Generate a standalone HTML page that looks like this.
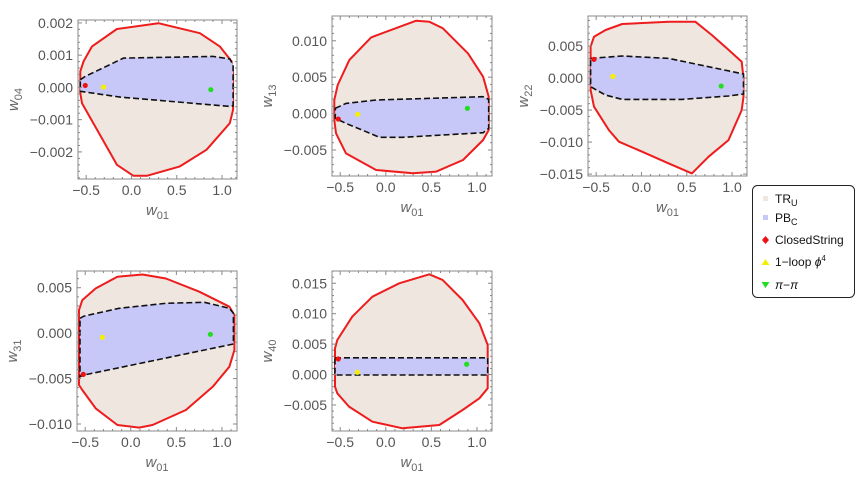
<!DOCTYPE html>
<html><head><meta charset="utf-8"><style>
body{margin:0;background:#fff;width:856px;height:494px;overflow:hidden;font-family:"Liberation Sans",sans-serif}
svg text{font-family:"Liberation Sans",sans-serif}
</style></head><body>
<svg id="chart" width="856" height="494" xmlns="http://www.w3.org/2000/svg"></svg>
<script>
// ---- data ----
const panelNames = ["w04","w13","w22","w31","w40"];
const ySub = ["04","13","22","31","40"];
const xRange = [-0.59, 1.165];
const yRanges = [[-0.00284,0.00209],[-0.00857,0.0134],[-0.0153,0.00969],[-0.01077,0.00684],[-0.00928,0.01702]];
const yMajor = [0.001,0.005,0.005,0.005,0.005];
const xTicks = [-0.5,0,0.5,1.0];
const xTickLabels = ["-0.5","0.0","0.5","1.0"];
const trRegion = [
 [[-0.565,0.0005],[-0.528,0.00081],[-0.436,0.00127],[-0.161,0.00181],[0.297,0.00199],[0.755,0.00168],[0.975,0.00127],[1.104,0.00081],[1.122,0.00044],[1.122,-0.00069],[1.085,-0.00111],[0.829,-0.00193],[0.535,-0.00245],[0.169,-0.00274],[0.022,-0.00274],[-0.161,-0.0024],[-0.546,-0.00049],[-0.565,-0.00018]],
 [[-0.565,0.00186],[-0.528,0.00392],[-0.4,0.00735],[-0.161,0.01046],[0.334,0.01275],[0.48,0.01261],[0.627,0.0117],[0.902,0.00827],[1.067,0.00507],[1.129,0.00232],[1.129,-0.00226],[1.067,-0.00363],[0.847,-0.00637],[0.554,-0.00797],[0.297,-0.0082],[-0.106,-0.00774],[-0.436,-0.00546],[-0.546,-0.00271],[-0.565,-0.00088]],
 [[-0.561,0.0049],[-0.524,0.00646],[-0.396,0.0075],[-0.213,0.00844],[0.301,0.0088],[0.594,0.0088],[0.777,0.00672],[0.942,0.00464],[1.107,0.00255],[1.126,-0.00005],[1.126,-0.00292],[1.107,-0.005],[0.961,-0.00969],[0.741,-0.01229],[0.557,-0.0149],[0.301,-0.01333],[0.007,-0.01151],[-0.249,-0.00995],[-0.359,-0.00813],[-0.524,-0.00448],[-0.561,-0.00188]],
 [[-0.568,0.00254],[-0.532,0.00364],[-0.385,0.00493],[-0.147,0.00621],[0.128,0.00646],[0.385,0.00602],[0.752,0.00456],[1.082,0.00291],[1.137,0.00199],[1.137,-0.00186],[1.082,-0.00369],[0.898,-0.0059],[0.605,-0.00846],[0.238,-0.01011],[0.092,-0.0104],[-0.147,-0.01011],[-0.385,-0.00828],[-0.532,-0.00626],[-0.568,-0.00571]],
 [[-0.557,0.00432],[-0.532,0.00568],[-0.367,0.00952],[-0.147,0.0128],[0.147,0.015],[0.477,0.01648],[0.623,0.01555],[0.843,0.01226],[1.027,0.00842],[1.118,0.00486],[1.118,-0.00226],[1.027,-0.00391],[0.843,-0.00582],[0.587,-0.0083],[0.183,-0.00884],[-0.147,-0.00775],[-0.403,-0.00527],[-0.532,-0.00308],[-0.557,-0.00199]]
];
const pbRegion = [
 [[-0.565,0.00024],[-0.51,0.00034],[-0.088,0.00091],[0.902,0.00096],[1.085,0.00088],[1.122,0.0007],[1.122,-0.00057],[1.085,-0.00059],[-0.125,-0.0003],[-0.565,-0.00012]],
 [[-0.554,0.00072],[-0.436,0.0014],[-0.106,0.00186],[1.067,0.00232],[1.129,0.00195],[1.129,-0.00203],[1.067,-0.00262],[0.187,-0.00326],[-0.07,-0.00326],[-0.216,-0.00249],[-0.436,-0.00135],[-0.554,-0.00065]],
 [[-0.561,0.00307],[-0.213,0.00344],[0.301,0.00307],[1.126,0.00063],[1.126,-0.0025],[0.961,-0.00281],[0.447,-0.00333],[-0.213,-0.00333],[-0.396,-0.00266],[-0.561,-0.00135]],
 [[-0.557,0.00163],[-0.513,0.00188],[-0.128,0.00273],[0.385,0.00328],[0.807,0.00339],[1.082,0.00273],[1.126,0.00218],[1.126,-0.0012],[-0.513,-0.00461],[-0.557,-0.0048]],
 [[-0.557,0.00276],[1.118,0.00276],[1.118,-0.00007],[-0.557,-0.00007]]
];
const closedString = [[-0.51,0.00006],[-0.521,-0.00075],[-0.524,0.00292],[-0.521,-0.00454],[-0.521,0.00256]];
const oneLoop = [[-0.308,0.00001],[-0.308,-0.0001],[-0.315,0.00026],[-0.312,-0.00046],[-0.312,0.00037]];
const piPi = [[0.876,-0.00007],[0.895,0.00072],[0.88,-0.00125],[0.873,-0.00013],[0.887,0.00169]];
// ---- layout ----
const frames = [[78,20,159,159],[332,16,160,160],[588,16,159,160],[77,271,160,160],[332,271,160,160]];
const NS="http://www.w3.org/2000/svg";
const svg=document.getElementById('chart');
function mk(tag,attrs,parent){const e=document.createElementNS(NS,tag);for(const k in attrs)e.setAttribute(k,attrs[k]);(parent||svg).appendChild(e);return e;}
function fmt(v){let s=Math.abs(v)<1e-12?"0.000":v.toFixed(3);return s.replace("-","\u2212");}
for(let p=0;p<5;p++){
  const [fx,fy,fw,fh]=frames[p];const [y0,y1]=yRanges[p];
  const X=v=>fx+(v-xRange[0])/(xRange[1]-xRange[0])*fw;
  const Y=v=>fy+fh-(v-y0)/(y1-y0)*fh;
  const g=mk('g',{});
  
  
  const pts=a=>a.map(q=>X(q[0]).toFixed(1)+','+Y(q[1]).toFixed(1)).join(' ');
  const tr=mk('polygon',{points:pts(trRegion[p]),fill:'#efe6df',stroke:'#ee1c1c','stroke-width':2,'stroke-linejoin':'round'},g);
  
  
  const pb=mk('polygon',{points:pts(pbRegion[p]),fill:'#c8c8f8',stroke:'#111','stroke-width':1.6,'stroke-dasharray':'6,3'},g);
  
  
  const mkPt=(arr,col,name)=>{const c=mk('circle',{cx:X(arr[p][0]),cy:Y(arr[p][1]),r:2.6,fill:col},g);};
  mkPt(closedString,'#ee1111','closedstring-point');
  mkPt(oneLoop,'#f4f000','one-loop-point');
  mkPt(piPi,'#22dd22','pi-pi-point');
  const fr=mk('rect',{x:fx,y:fy,width:fw,height:fh,fill:'none',stroke:'#888','stroke-width':1},g);
  
  
  for(let t=-0.5;t<=1.1001;t+=0.1){const x=X(t);const maj=Math.abs(t/0.5-Math.round(t/0.5))<1e-6;const L=maj?4:2;
    mk('line',{x1:x,y1:fy+fh,x2:x,y2:fy+fh-L,stroke:'#888'},g);mk('line',{x1:x,y1:fy,x2:x,y2:fy+L,stroke:'#888'},g);}
  xTicks.forEach((t,i)=>{const tx=mk('text',{x:X(t),y:fy+fh+16,'text-anchor':'middle','font-size':14,fill:'#555'},g);tx.textContent=xTickLabels[i].replace("-","\u2212");});
  const m=yMajor[p],mi=m/5;
  for(let k=Math.ceil(y0/mi);k*mi<=y1;k++){const v=k*mi;const y=Y(v);const maj=k%5===0;const L=maj?4:2;
    mk('line',{x1:fx,y1:y,x2:fx+L,y2:y,stroke:'#888'},g);mk('line',{x1:fx+fw,y1:y,x2:fx+fw-L,y2:y,stroke:'#888'},g);
    if(maj){const tx=mk('text',{x:fx-5,y:y+5,'text-anchor':'end','font-size':14,fill:'#555'},g);tx.textContent=fmt(v);}}
  const xl=mk('text',{x:fx+fw/2,y:fy+fh+36,'text-anchor':'middle','font-size':15,fill:'#666','font-style':'italic'},g);
  xl.innerHTML='w<tspan font-size="11" dy="4" font-style="normal">01</tspan>';
  
  const lx=fx-60,ly=fy+fh/2;
  const yl=mk('text',{x:lx,y:ly,'text-anchor':'middle','font-size':15,fill:'#666','font-style':'italic',transform:`rotate(-90 ${lx} ${ly})`},g);
  yl.innerHTML='w<tspan font-size="11" dy="4" font-style="normal">'+ySub[p]+'</tspan>';
  
}
const lg=mk('g',{});


mk('rect',{x:752.5,y:185.5,width:102,height:112,rx:5,fill:'#fff',stroke:'#222','stroke-width':1},lg);
const lbl=['TR<tspan font-size="9" dy="3">U</tspan>','PB<tspan font-size="9" dy="3">C</tspan>','ClosedString','1\u2212loop <tspan font-style="italic">\u03d5</tspan><tspan font-size="8" dy="-5">4</tspan>','<tspan font-style="italic">\u03c0</tspan>\u2212<tspan font-style="italic">\u03c0</tspan>'];
const ly=[199,218,240,262,285];
lbl.forEach((s,i)=>{const t=mk('text',{x:775,y:ly[i]+4,'font-size':12,fill:'#111'},lg);t.innerHTML=s;});
mk('rect',{x:763,y:196,width:5,height:5,fill:'#efe6df'},lg);
mk('rect',{x:763,y:215,width:5,height:5,fill:'#c8c8f8'},lg);
mk('polygon',{points:'765.5,236 769,240 765.5,244 762,240',fill:'#ee1111'},lg);
mk('polygon',{points:'765.5,259 769.5,265 761.5,265',fill:'#f4f000'},lg);
mk('polygon',{points:'761.5,282 769.5,282 765.5,288',fill:'#22dd22'},lg);
</script>
</body></html>
